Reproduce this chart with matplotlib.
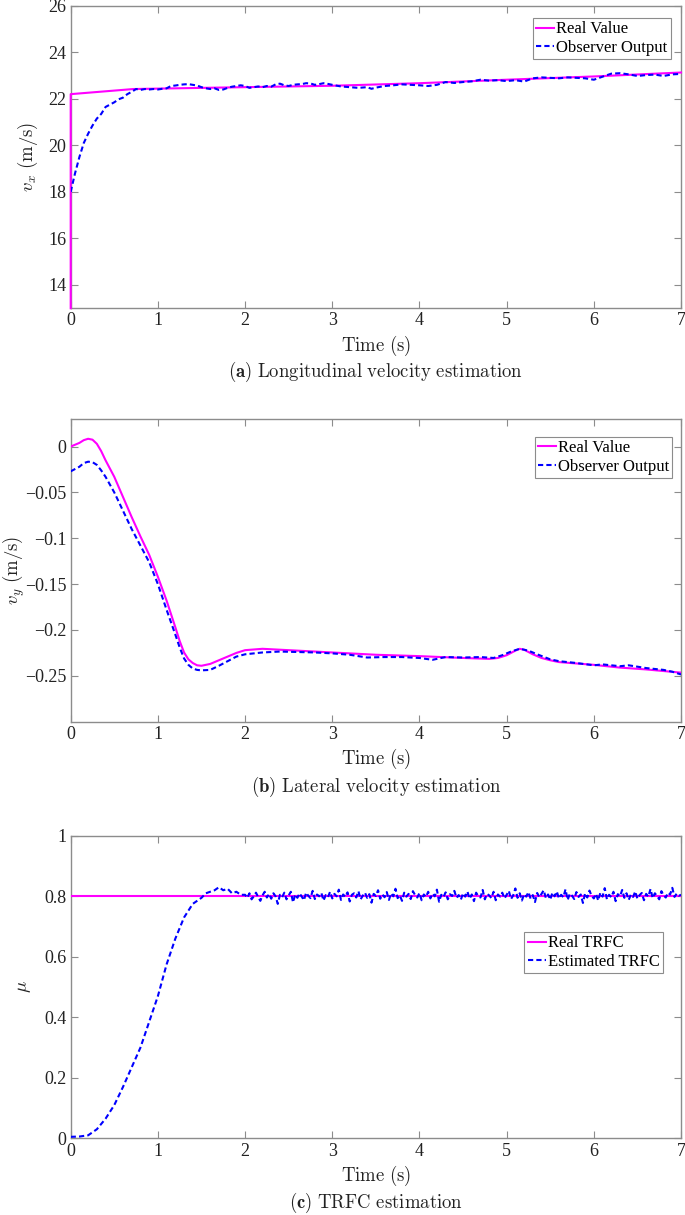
"""Observer estimation results: vx, vy and TRFC (three stacked panels)."""
import matplotlib
matplotlib.use("Agg")
import matplotlib.pyplot as plt

plt.rcParams["mathtext.fontset"] = "cm"
plt.rcParams["font.family"] = ["Liberation Serif", "DejaVu Serif"]

MAGENTA = "#ff00ff"
BLUE = "#0000ff"
GRAY = "#8c8c8c"
TEXT = "#222222"

# ---- (a) longitudinal velocity ----
t_vx_real = [0, 0, 0.72, 2.0, 3.0, 4.0, 5.0, 6.0, 7.0]
vx_real = [13.0, 22.2, 22.42, 22.5, 22.56, 22.67, 22.82, 22.96, 23.13]

t_vx_obs = [0, 0.05, 0.1, 0.15, 0.2, 0.25, 0.3, 0.35, 0.4, 0.45, 0.5, 0.55,
            0.6, 0.65, 0.7, 0.75, 0.8, 0.85, 0.9, 0.95, 1.0, 1.05, 1.1, 1.15,
            1.2, 1.25, 1.3, 1.35, 1.4, 1.45, 1.5, 1.55, 1.6, 1.65, 1.7, 1.75,
            1.8, 1.85, 1.9, 1.95, 2.0, 2.05, 2.1, 2.15, 2.2, 2.25, 2.3, 2.35,
            2.4, 2.45, 2.5, 2.55, 2.6, 2.65, 2.7, 2.75, 2.8, 2.85, 2.9, 2.95,
            3.0, 3.1, 3.2, 3.3, 3.4, 3.45, 3.5, 3.6, 3.7, 3.8, 3.9, 4.0, 4.1,
            4.2, 4.3, 4.4, 4.5, 4.6, 4.7, 4.8, 4.9, 5.0, 5.1, 5.2, 5.3, 5.4,
            5.5, 5.6, 5.7, 5.8, 5.9, 6.0, 6.1, 6.2, 6.3, 6.4, 6.5, 6.6, 6.7,
            6.8, 6.9, 7.0]
vx_obs = [18.0, 18.8, 19.5, 20.1, 20.5, 20.85, 21.15, 21.35, 21.65, 21.75,
          21.85, 21.98, 22.05, 22.2, 22.3, 22.42, 22.38, 22.42, 22.4, 22.42,
          22.4, 22.43, 22.45, 22.55, 22.57, 22.6, 22.62, 22.63, 22.6, 22.57,
          22.5, 22.45, 22.42, 22.45, 22.38, 22.4, 22.47, 22.52, 22.55, 22.58,
          22.55, 22.47, 22.5, 22.53, 22.5, 22.55, 22.52, 22.62, 22.65, 22.58,
          22.55, 22.6, 22.62, 22.63, 22.67, 22.66, 22.6, 22.63, 22.67, 22.64,
          22.6, 22.53, 22.5, 22.47, 22.5, 22.43, 22.48, 22.55, 22.58, 22.62,
          22.6, 22.58, 22.55, 22.6, 22.72, 22.68, 22.72, 22.75, 22.82, 22.78,
          22.8, 22.76, 22.8, 22.74, 22.88, 22.92, 22.9, 22.88, 22.92, 22.9,
          22.88, 22.82, 22.95, 23.08, 23.1, 23.05, 22.98, 23.02, 23.04, 22.98,
          23.05, 23.07]

# ---- (b) lateral velocity ----
t_vy_real = [0, 0.1, 0.15, 0.2, 0.25, 0.3, 0.35, 0.4, 0.5, 0.6, 0.7, 0.8,
             0.9, 1.0, 1.1, 1.2, 1.25, 1.3, 1.35, 1.4, 1.45, 1.5, 1.6, 1.7,
             1.8, 1.9, 2.0, 2.2, 2.4, 2.6, 3.0, 3.5, 4.0, 4.5, 4.8, 4.9, 5.0,
             5.1, 5.15, 5.2, 5.3, 5.4, 5.5, 5.6, 5.8, 6.0, 6.3, 6.6, 7.0]
vy_real = [0.0, 0.004, 0.007, 0.0085, 0.0075, 0.003, -0.005, -0.015, -0.033,
           -0.055, -0.077, -0.098, -0.118, -0.142, -0.168, -0.197, -0.212,
           -0.2245, -0.232, -0.236, -0.2385, -0.239, -0.237, -0.233, -0.229,
           -0.225, -0.222, -0.2205, -0.2215, -0.2225, -0.2245, -0.227,
           -0.2285, -0.2305, -0.2315, -0.2305, -0.2275, -0.2225, -0.2205,
           -0.2215, -0.2265, -0.2305, -0.233, -0.235, -0.2365, -0.238, -0.241,
           -0.243, -0.2465]

t_vy_obs = [0, 0.1, 0.15, 0.2, 0.25, 0.3, 0.35, 0.4, 0.5, 0.6, 0.7, 0.8, 0.9,
            1.0, 1.1, 1.2, 1.25, 1.3, 1.35, 1.4, 1.45, 1.5, 1.6, 1.7, 1.8, 1.9,
            2.0, 2.2, 2.4, 2.6, 2.8, 3.0, 3.2, 3.4, 3.6, 3.8, 4.0, 4.15, 4.3,
            4.5, 4.7, 4.85, 4.95, 5.05, 5.15, 5.25, 5.35, 5.5, 5.6, 5.8, 6.0,
            6.1, 6.2, 6.3, 6.4, 6.6, 6.8, 6.9, 7.0]
vy_obs = [-0.027, -0.022, -0.018, -0.0165, -0.017, -0.02, -0.026, -0.033,
          -0.05, -0.07, -0.09, -0.108, -0.126, -0.15, -0.178, -0.205, -0.219,
          -0.231, -0.238, -0.242, -0.2435, -0.244, -0.2435, -0.239, -0.234,
          -0.229, -0.2265, -0.2245, -0.2235, -0.224, -0.2245, -0.2255, -0.227,
          -0.23, -0.2295, -0.2295, -0.2305, -0.2325, -0.2295, -0.23, -0.2295,
          -0.2305, -0.2275, -0.2235, -0.2205, -0.2225, -0.2265, -0.232,
          -0.234, -0.236, -0.2385, -0.2375, -0.2385, -0.2395, -0.2385,
          -0.2415, -0.2435, -0.2455, -0.2485]

# ---- (c) TRFC ----
t_mu_real = [0, 7]
mu_real = [0.8, 0.8]

t_mu_rise = [0, 0.1, 0.2, 0.3, 0.4, 0.5, 0.6, 0.7, 0.8, 0.9, 1.0, 1.1, 1.2,
             1.3, 1.4, 1.5, 1.55, 1.6, 1.65, 1.7, 1.75, 1.8, 1.85, 1.9, 1.95]
mu_rise = [0.005, 0.006, 0.01, 0.03, 0.065, 0.11, 0.17, 0.235, 0.3, 0.385,
           0.47, 0.575, 0.66, 0.73, 0.775, 0.795, 0.81, 0.815, 0.82, 0.83,
           0.82, 0.825, 0.81, 0.815, 0.805]
# estimated TRFC after convergence, sampled every 0.025 s from 2.0 s to 7.0 s
mu_steady = [
    0.805, 0.795, 0.81, 0.79, 0.8, 0.812, 0.798, 0.785, 0.803, 0.815,
    0.796, 0.808, 0.792, 0.81, 0.8, 0.775, 0.805, 0.797, 0.812, 0.79,
    0.803, 0.815, 0.78, 0.806, 0.795, 0.81, 0.799, 0.787, 0.812, 0.802,
    0.794, 0.818, 0.791, 0.806, 0.8, 0.811, 0.786, 0.804, 0.797, 0.815,
    0.793, 0.808, 0.8, 0.822, 0.788, 0.806, 0.798, 0.813, 0.783, 0.805,
    0.81, 0.796, 0.817, 0.79, 0.802, 0.812, 0.795, 0.807, 0.779, 0.808,
    0.801, 0.82, 0.792, 0.806, 0.797, 0.814, 0.788, 0.81, 0.8, 0.825,
    0.794, 0.803, 0.785, 0.812, 0.799, 0.808, 0.791, 0.817, 0.804, 0.796,
    0.811, 0.787, 0.806, 0.798, 0.815, 0.793, 0.809, 0.8, 0.822, 0.782,
    0.805, 0.797, 0.813, 0.79, 0.807, 0.801, 0.818, 0.795, 0.804, 0.789,
    0.81, 0.799, 0.816, 0.792, 0.806, 0.784, 0.812, 0.8, 0.796, 0.821,
    0.79, 0.808, 0.803, 0.794, 0.815, 0.787, 0.806, 0.799, 0.812, 0.793,
    0.805, 0.818, 0.791, 0.803, 0.826, 0.795, 0.81, 0.786, 0.807, 0.799,
    0.814, 0.792, 0.804, 0.781, 0.811, 0.797, 0.808, 0.82, 0.794, 0.806,
    0.789, 0.812, 0.8, 0.816, 0.793, 0.805, 0.797, 0.823, 0.788, 0.809,
    0.802, 0.791, 0.814, 0.798, 0.806, 0.778, 0.81, 0.796, 0.819, 0.801,
    0.793, 0.808, 0.786, 0.812, 0.799, 0.827, 0.79, 0.805, 0.797, 0.815,
    0.784, 0.807, 0.8, 0.821, 0.795, 0.81, 0.788, 0.806, 0.798, 0.816,
    0.792, 0.804, 0.811, 0.787, 0.808, 0.799, 0.824, 0.794, 0.81, 0.801,
    0.79, 0.817, 0.803, 0.796, 0.812, 0.806, 0.828, 0.798, 0.809, 0.802,
    0.805,
]
t_mu_steady = [2.0 + 0.025 * i for i in range(len(mu_steady))]
t_mu_obs = t_mu_rise + t_mu_steady
mu_obs = mu_rise + mu_steady

X_TICKS = [0, 1, 2, 3, 4, 5, 6, 7]
TICK_FS = 13
LABEL_FS = 13.5


def style_axes(ax, ylim, yticks, yticklabels):
    ax.set_xlim(0, 7)
    ax.set_ylim(*ylim)
    ax.set_xticks(X_TICKS)
    ax.set_xticklabels([str(x) for x in X_TICKS])
    ax.set_yticks(yticks)
    ax.set_yticklabels(yticklabels)
    ax.tick_params(direction="in", top=True, right=True, length=5, width=0.8,
                   color=GRAY, labelsize=TICK_FS, labelcolor=TEXT, pad=3)
    for sp in ax.spines.values():
        sp.set_color(GRAY)
        sp.set_linewidth(1.0)
    ax.set_xlabel(r"$\mathrm{Time\ (s)}$", fontsize=LABEL_FS, color=TEXT)
    ax.xaxis.set_label_coords(0.5, -0.083)


def add_legend(ax, labels, anchor):
    leg = ax.legend(labels, loc="upper right", bbox_to_anchor=anchor,
                    fontsize=12, frameon=True, fancybox=False, framealpha=1,
                    edgecolor=GRAY, borderpad=0.2, labelspacing=0.15,
                    handlelength=1.1, handletextpad=0.1, borderaxespad=0)
    leg.get_frame().set_linewidth(0.8)


def plot_pair(ax, t1, y1, t2, y2, clip_real=True):
    # drawn above the spines so the jump at t = 0 shows on the left axis
    ax.plot(t1, y1, color=MAGENTA, lw=1.5, zorder=3, clip_on=clip_real)
    ax.plot(t2, y2, color=BLUE, lw=1.5, linestyle="--", dashes=(2.5, 1.5),
            zorder=3)


def caption(ax, text, y):
    ax.text(0.5, y, text, transform=ax.transAxes, ha="center", va="center",
            fontsize=LABEL_FS, color=TEXT)


fig = plt.figure(figsize=(6.85, 12.15), dpi=100)

ax_a = fig.add_axes([0.1032, 0.7463, 0.891, 0.2490])
plot_pair(ax_a, t_vx_real, vx_real, t_vx_obs, vx_obs, clip_real=False)
style_axes(ax_a, (13, 26), [14, 16, 18, 20, 22, 24, 26],
           ["14", "16", "18", "20", "22", "24", "26"])
ax_a.set_ylabel(r"$v_x\ \mathrm{(m/s)}$", fontsize=LABEL_FS, color=TEXT)
ax_a.yaxis.set_label_coords(-0.05, 0.5)
add_legend(ax_a, ["Real Value", "Observer Output"], (0.983, 0.959))
caption(ax_a, r"$\mathbf{(a)}\ \mathrm{Longitudinal\ velocity\ estimation}$",
        -0.212)

ax_b = fig.add_axes([0.1032, 0.4060, 0.891, 0.2491])
plot_pair(ax_b, t_vy_real, vy_real, t_vy_obs, vy_obs)
style_axes(ax_b, (-0.3, 0.03), [-0.25, -0.2, -0.15, -0.1, -0.05, 0],
           ["\u22120.25", "\u22120.2", "\u22120.15", "\u22120.1", "\u22120.05", "0"])
ax_b.set_ylabel(r"$v_y\ \mathrm{(m/s)}$", fontsize=LABEL_FS, color=TEXT)
ax_b.yaxis.set_label_coords(-0.071, 0.5)
add_legend(ax_b, ["Real Value", "Observer Output"], (0.986, 0.9415))
caption(ax_b, r"$\mathbf{(b)}\ \mathrm{Lateral\ velocity\ estimation}$",
        -0.215)

ax_c = fig.add_axes([0.1032, 0.0631, 0.891, 0.2490])
plot_pair(ax_c, t_mu_real, mu_real, t_mu_obs, mu_obs)
style_axes(ax_c, (0, 1), [0, 0.2, 0.4, 0.6, 0.8, 1],
           ["0", "0.2", "0.4", "0.6", "0.8", "1"])
ax_c.set_ylabel(r"$\mu$", fontsize=LABEL_FS, color=TEXT)
ax_c.yaxis.set_label_coords(-0.062, 0.5)
add_legend(ax_c, ["Real TRFC", "Estimated TRFC"], (0.9705, 0.682))
caption(ax_c, r"$\mathbf{(c)}\ \mathrm{TRFC\ estimation}$", -0.214)

fig.savefig("out.png", dpi=100)
